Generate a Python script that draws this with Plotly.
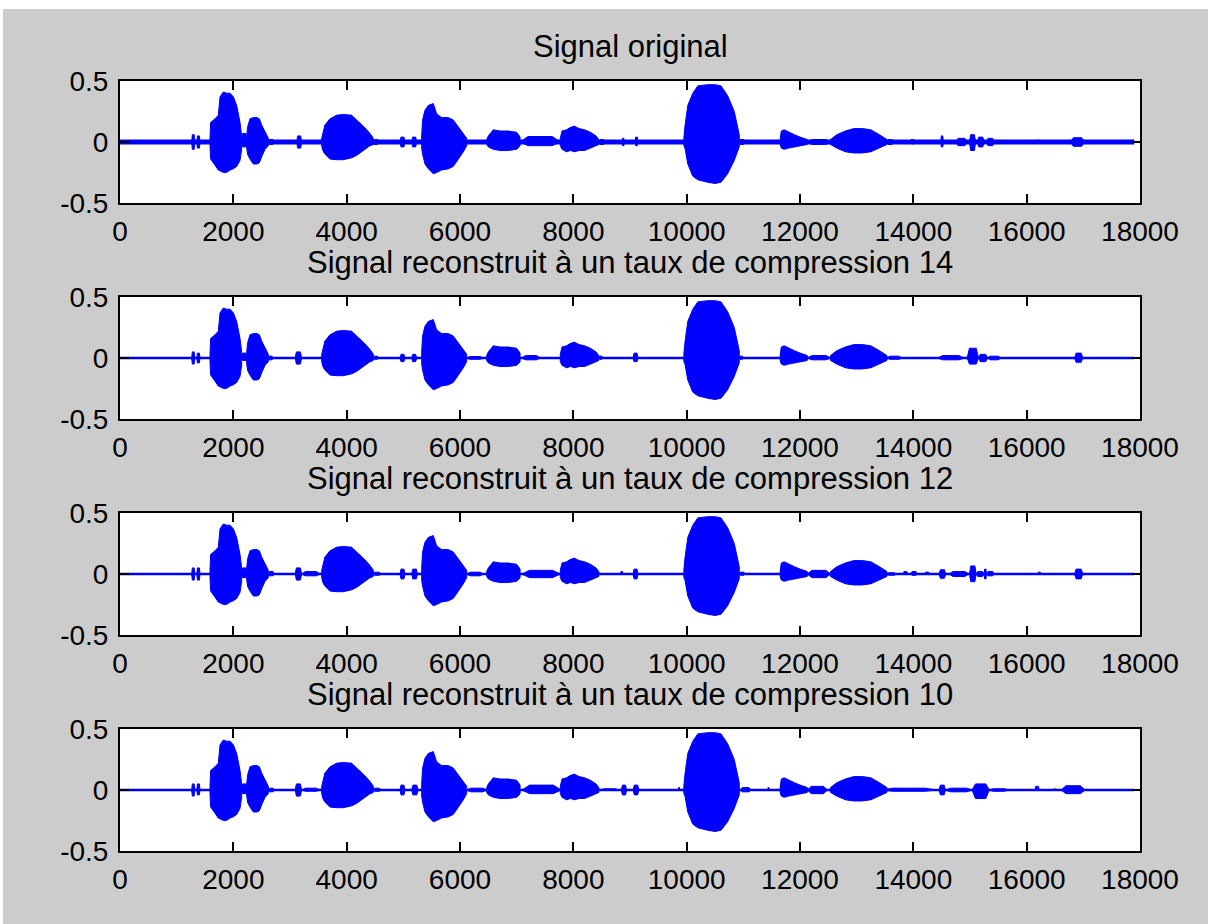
import plotly.graph_objects as go
from plotly.subplots import make_subplots

# ---- data: envelope of the speech signal (sample index, upper / lower amplitude) ----
signal_length = 17900

syl1_x = [1588, 1600, 1676, 1735, 1765, 1824, 1880, 1941, 2000, 2059, 2118, 2147]
syl1_hi = [0.03, 0.16, 0.19, 0.22, 0.37, 0.41, 0.40, 0.40, 0.37, 0.30, 0.16, 0.05]
syl1_lo = [-0.03, -0.14, -0.19, -0.23, -0.24, -0.25, -0.25, -0.23, -0.22, -0.20, -0.15, -0.06]

syl2_x = [2235, 2250, 2294, 2353, 2420, 2460, 2500, 2560, 2618]
syl2_hi = [0.04, 0.12, 0.19, 0.20, 0.20, 0.19, 0.14, 0.08, 0.03]
syl2_lo = [-0.04, -0.10, -0.14, -0.18, -0.18, -0.17, -0.12, -0.06, -0.03]

syl3_x = [3559, 3580, 3617, 3706, 3823, 3941, 4088, 4176, 4294, 4412, 4471]
syl3_hi = [0.03, 0.07, 0.14, 0.19, 0.22, 0.225, 0.22, 0.18, 0.13, 0.07, 0.03]
syl3_lo = [-0.03, -0.07, -0.10, -0.14, -0.145, -0.145, -0.13, -0.11, -0.07, -0.03, -0.02]

syl4_x = [5324, 5340, 5382, 5441, 5529, 5588, 5676, 5794, 5882, 5971, 6059, 6118]
syl4_hi = [0.05, 0.18, 0.26, 0.30, 0.315, 0.23, 0.20, 0.20, 0.18, 0.12, 0.07, 0.03]
syl4_lo = [-0.05, -0.10, -0.18, -0.22, -0.26, -0.25, -0.23, -0.22, -0.20, -0.14, -0.08, -0.03]

syl5_x = [6471, 6500, 6588, 6706, 6850, 7000, 7060]
syl5_hi = [0.02, 0.05, 0.10, 0.09, 0.09, 0.08, 0.04]
syl5_lo = [-0.02, -0.04, -0.06, -0.07, -0.07, -0.06, -0.03]

syl6_x = [7770, 7800, 7880, 7950, 8020, 8100, 8200, 8300, 8400, 8450]
syl6_hi = [0.03, 0.09, 0.10, 0.12, 0.13, 0.11, 0.10, 0.08, 0.05, 0.02]
syl6_lo = [-0.03, -0.06, -0.08, -0.07, -0.08, -0.07, -0.07, -0.05, -0.03, -0.02]

syl7_x = [9950, 9970, 10020, 10108, 10196, 10372, 10500, 10606, 10723, 10840, 10928]
syl7_hi = [0.03, 0.13, 0.30, 0.40, 0.46, 0.47, 0.47, 0.46, 0.38, 0.25, 0.06]
syl7_lo = [-0.03, -0.05, -0.18, -0.28, -0.31, -0.33, -0.34, -0.33, -0.26, -0.15, -0.04]

syl8_x = [11650, 11670, 11720, 11800, 11900, 12000, 12129]
syl8_hi = [0.02, 0.09, 0.10, 0.08, 0.06, 0.04, 0.02]
syl8_lo = [-0.02, -0.05, -0.06, -0.05, -0.04, -0.03, -0.02]

syl9_x = [12539, 12650, 12800, 12950, 13100, 13250, 13400, 13535]
syl9_hi = [0.02, 0.06, 0.09, 0.11, 0.11, 0.10, 0.06, 0.02]
syl9_lo = [-0.02, -0.05, -0.08, -0.09, -0.09, -0.08, -0.05, -0.02]

# short bursts between syllables: (start, end, upper, lower)
blips_original = [
    (1265, 1320, 0.06, -0.06), (1355, 1412, 0.05, -0.05), (2147, 2240, 0.07, -0.04),
    (2618, 2720, 0.02, -0.02), (3118, 3206, 0.05, -0.05), (4471, 4560, 0.02, -0.02),
    (4941, 5029, 0.04, -0.04), (5147, 5235, 0.04, -0.04), (7060, 7770, 0.045, -0.03),
    (8450, 8560, 0.02, -0.02), (8860, 8900, 0.03, -0.03), (9090, 9140, 0.04, -0.03),
    (10928, 11030, 0.02, -0.02), (12129, 12539, 0.02, -0.02), (13535, 13650, 0.02, -0.02),
    (13945, 14030, 0.02, -0.015), (14484, 14530, 0.05, -0.04), (14749, 14950, 0.03, -0.03),
    (14990, 15100, 0.06, -0.07), (15130, 15250, 0.04, -0.04), (15290, 15428, 0.03, -0.03),
    (16190, 16210, 0.02, -0.01), (16773, 17021, 0.035, -0.035),
]
blips_cr14 = [
    (1265, 1320, 0.05, -0.05), (1355, 1412, 0.04, -0.04), (2147, 2240, 0.04, -0.02),
    (2618, 2700, 0.015, -0.015), (3090, 3206, 0.05, -0.05), (4471, 4560, 0.015, -0.01),
    (4941, 5029, 0.03, -0.03), (5147, 5235, 0.03, -0.03), (6118, 6412, 0.012, -0.01),
    (7092, 7414, 0.02, -0.015), (8450, 8520, 0.015, -0.01), (9054, 9142, 0.04, -0.03),
    (10928, 11000, 0.015, -0.01), (12129, 12539, 0.02, -0.015), (13535, 13800, 0.015, -0.01),
    (14425, 14897, 0.02, -0.015), (14950, 15150, 0.08, -0.05), (15150, 15310, 0.03, -0.03),
    (15310, 15546, 0.015, -0.015), (16844, 16991, 0.04, -0.035),
]
blips_cr12 = [
    (1265, 1320, 0.05, -0.05), (1355, 1412, 0.05, -0.05), (2147, 2240, 0.05, -0.03),
    (2618, 2720, 0.02, -0.015), (3090, 3206, 0.05, -0.05), (3206, 3529, 0.02, -0.015),
    (4471, 4600, 0.015, -0.01), (4941, 5029, 0.04, -0.04), (5147, 5250, 0.04, -0.04),
    (6118, 6412, 0.015, -0.015), (7092, 7770, 0.03, -0.03), (8830, 8880, 0.02, -0.005),
    (9054, 9142, 0.04, -0.04), (10928, 11030, 0.015, -0.01), (12129, 12539, 0.03, -0.03),
    (13535, 13700, 0.01, -0.01), (13820, 13900, 0.02, -0.005), (13953, 14071, 0.02, -0.01),
    (14200, 14290, 0.015, -0.005), (14454, 14572, 0.035, -0.035), (14630, 14980, 0.02, -0.02),
    (14990, 15110, 0.066, -0.063), (15110, 15250, 0.02, -0.02), (15250, 15290, 0.04, -0.04),
    (15290, 15428, 0.02, -0.015), (16195, 16254, 0.015, -0.002), (16844, 16991, 0.04, -0.04),
]
blips_cr10 = [
    (1265, 1320, 0.05, -0.05), (1355, 1412, 0.05, -0.04), (2147, 2240, 0.05, -0.03),
    (2618, 2720, 0.015, -0.015), (3090, 3206, 0.05, -0.05), (3206, 3529, 0.015, -0.01),
    (4471, 4600, 0.015, -0.01), (4941, 5029, 0.04, -0.04), (5147, 5260, 0.04, -0.04),
    (6118, 6471, 0.015, -0.015), (7092, 7784, 0.04, -0.03), (8478, 8800, 0.01, -0.005),
    (8848, 8940, 0.04, -0.04), (9056, 9156, 0.04, -0.04), (9850, 9880, 0.02, -0.002),
    (10944, 11137, 0.02, -0.015), (11430, 11460, 0.02, -0.002), (12129, 12485, 0.03, -0.03),
    (13449, 14400, 0.015, -0.01), (14455, 14566, 0.04, -0.04), (14566, 15036, 0.015, -0.015),
    (15036, 15340, 0.05, -0.07), (15340, 15680, 0.01, -0.01), (16146, 16223, 0.03, -0.002),
    (16480, 16510, 0.01, -0.002), (16608, 17032, 0.035, -0.03),
]

panel_titles = [
    "Signal original",
    "Signal reconstruit à un taux de compression 14",
    "Signal reconstruit à un taux de compression 12",
    "Signal reconstruit à un taux de compression 10",
]
panel_blips = [blips_original, blips_cr14, blips_cr12, blips_cr10]
baseline_width = [5, 2.5, 2.5, 2.5]

x_ticks = [0, 2000, 4000, 6000, 8000, 10000, 12000, 14000, 16000, 18000]
x_ticktext = [str(v) for v in x_ticks]
y_ticks = [-0.5, 0, 0.5]
y_ticktext = ["-0.5", "0", "0.5"]

syllables = [
    (syl1_x, syl1_hi, syl1_lo), (syl2_x, syl2_hi, syl2_lo), (syl3_x, syl3_hi, syl3_lo),
    (syl4_x, syl4_hi, syl4_lo), (syl5_x, syl5_hi, syl5_lo), (syl6_x, syl6_hi, syl6_lo),
    (syl7_x, syl7_hi, syl7_lo), (syl8_x, syl8_hi, syl8_lo), (syl9_x, syl9_hi, syl9_lo),
]

# ---- page geometry (pixels) ----
W, H = 1208, 924
L, R, T, B = 120, 68, 81, 73
plot_h = H - T - B
panel_h = 122
panel_tops = [81, 297, 513, 729]
BLUE = "#0000ff"
FONT = "Liberation Sans, Arial, sans-serif"


def py(pix):
    """pixel row -> paper y"""
    return (H - B - pix) / plot_h


def px(pix):
    return (pix - L) / (W - L - R)


def envelope_polygon(x, hi, lo):
    xs = list(x) + list(x[::-1]) + [x[0]]
    ys = list(hi) + list(lo[::-1]) + [hi[0]]
    return xs, ys


def blip_polygon(x0, x1, hi, lo):
    r = 0.2 * (x1 - x0)
    xs = [x0, x0 + r, x1 - r, x1, x1 - r, x0 + r, x0]
    ys = [0, hi, hi, 0, lo, lo, 0]
    return xs, ys


fig = make_subplots(rows=4, cols=1)

for i in range(4):
    row = i + 1
    # flat part of the waveform
    fig.add_trace(go.Scatter(
        x=[0, signal_length], y=[0, 0], mode="lines",
        line=dict(color=BLUE, width=baseline_width[i]), hoverinfo="skip",
    ), row=row, col=1)

    xs_all, ys_all = [], []
    for sx, shi, slo in syllables:
        xs, ys = envelope_polygon(sx, shi, slo)
        xs_all += xs + [None]
        ys_all += ys + [None]
    for x0, x1, hi, lo in panel_blips[i]:
        xs, ys = blip_polygon(x0, x1, hi, lo)
        xs_all += xs + [None]
        ys_all += ys + [None]
    fig.add_trace(go.Scatter(
        x=xs_all, y=ys_all, mode="lines", fill="toself",
        fillcolor=BLUE, line=dict(color=BLUE, width=1), hoverinfo="skip",
    ), row=row, col=1)

axis_common = dict(
    showline=True, linecolor="black", linewidth=2, mirror="ticks",
    ticks="inside", ticklen=9, tickwidth=2, tickcolor="black",
    showgrid=False, zeroline=False,
    tickfont=dict(family=FONT, size=28, color="black"),
)

annotations = []
for i in range(4):
    top = panel_tops[i]
    bottom = top + panel_h
    xa = "xaxis" if i == 0 else f"xaxis{i + 1}"
    ya = "yaxis" if i == 0 else f"yaxis{i + 1}"
    fig.layout[xa].update(
        range=[0, 18000], tickvals=x_ticks, ticktext=x_ticktext,
        domain=[0, 1], ticklabelstandoff=2, **axis_common,
    )
    fig.layout[ya].update(
        range=[-0.5, 0.5], tickvals=y_ticks, ticktext=y_ticktext,
        domain=[py(bottom), py(top)], ticklabelstandoff=4, **axis_common,
    )
    annotations.append(dict(
        text=panel_titles[i], x=0.5, y=py(top - 35), xref="paper", yref="paper",
        xanchor="center", yanchor="middle", showarrow=False,
        font=dict(family=FONT, size=31, color="black"),
    ))

fig.update_layout(
    width=W, height=H,
    margin=dict(l=L, r=R, t=T, b=B, pad=0),
    paper_bgcolor="#cccccc", plot_bgcolor="white",
    showlegend=False, annotations=annotations,
    shapes=[
        dict(type="rect", xref="paper", yref="paper", x0=px(0), x1=px(W),
             y0=py(9), y1=py(0), fillcolor="white", line=dict(width=0), layer="below"),
        dict(type="rect", xref="paper", yref="paper", x0=px(0), x1=px(3),
             y0=py(H), y1=py(0), fillcolor="white", line=dict(width=0), layer="below"),
    ],
)

fig.write_html("out.html")
